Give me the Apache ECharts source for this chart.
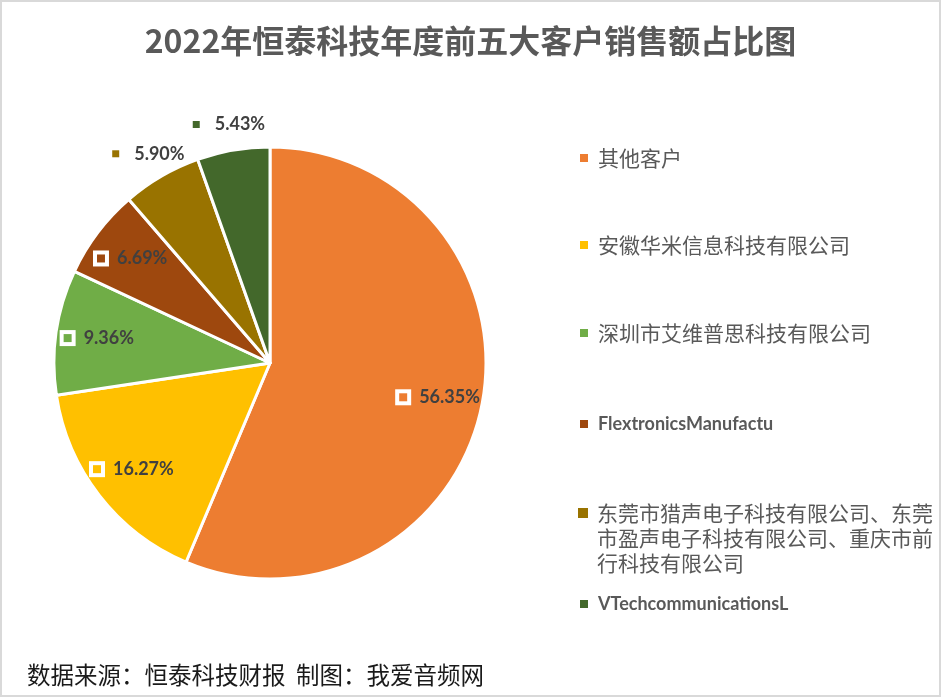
<!DOCTYPE html>
<html>
<head>
<meta charset="utf-8">
<script src="https://cdn.jsdelivr.net/npm/echarts@6/dist/echarts.min.js"></script>
<style>
html, body { margin: 0; padding: 0; background: #fff; }
#main { width: 941px; height: 697px; }
</style>
</head>
<body>
<div id="main"></div>
<script>
var chartTitle = "2022年恒泰科技年度前五大客户销售额占比图";
var footNote = "数据来源：恒泰科技财报  制图：我爱音频网";

// 客户名称 / 占比(%) / 颜色
var customers = [
	"其他客户",
	"安徽华米信息科技有限公司",
	"深圳市艾维普思科技有限公司",
	"FlextronicsManufactu",
	"东莞市猎声电子科技有限公司、东莞市盈声电子科技有限公司、重庆市前行科技有限公司",
	"VTechcommunicationsL"
];
var shares = [56.35, 16.27, 9.36, 6.69, 5.90, 5.43];
var colors = ["#ED7D31", "#FFC000", "#70AD47", "#9E480E", "#997300", "#43682B"];
// 哪些标签放在饼外
var outsideLabel = [false, false, false, false, true, true];
// 图例每项首行中心的 y
var legendTops = [158, 245, 333, 424, 513, 604];

var pieCenter = [270, 363];
var pieRadius = 216;
var lineChars = 16;   // 图例每行字数

var myChart = echarts.init(document.getElementById("main"));

function pct(v) {
	return v.toFixed(2) + "%";
}

// 饼块
var pieData = [];
var innerLabelData = [];
var outerLabelData = [];
for (var i = 0; i < customers.length; i++) {
	pieData.push({
		name: customers[i],
		value: shares[i],
		itemStyle: { color: colors[i] }
	});
	innerLabelData.push({
		name: customers[i],
		value: shares[i],
		label: {
			show: !outsideLabel[i],
			rich: {
				sq: { width: 8, height: 8, backgroundColor: colors[i], borderColor: "#fff", borderWidth: 4 },
				t: { color: "#404040", fontFamily: "Lato", fontWeight: "bold", fontSize: 18, padding: [0, 0, 0, 12] }
			}
		}
	});
	outerLabelData.push({
		name: customers[i],
		value: shares[i],
		label: {
			show: outsideLabel[i],
			rich: {
				sq: { width: 7, height: 7, backgroundColor: colors[i] },
				t: { color: "#404040", fontFamily: "Lato", fontWeight: "bold", fontSize: 18, padding: [0, 0, 0, 15] }
			}
		}
	});
}

var labelText = {
	position: "inside",
	color: "#404040",
	fontFamily: "Lato",
	fontWeight: "bold",
	fontSize: 18,
	formatter: function (p) {
		return "{sq|}{t|" + pct(p.value) + "}";
	}
};

// 图例: 每项一个, 方便控制位置
var legends = [];
for (var i = 0; i < customers.length; i++) {
	var latin = /^[\x00-\x7F]+$/.test(customers[i]);
	var multi = customers[i].length > lineChars && !latin;
	var txt = {
		color: "#595959",
		fontFamily: latin ? "Lato" : "Noto Sans CJK SC",
		fontWeight: latin ? "bold" : "normal",
		fontSize: latin ? 18 : 21,
		lineHeight: 25,
		padding: [0, 0, 0, 4]
	};
	var lg = {
		data: [{ name: customers[i], itemStyle: { color: colors[i] } }],
		left: 578,
		top: legendTops[i] - 12.5,
		orient: "vertical",
		padding: 0,
		itemWidth: 10,
		itemHeight: 10,
		icon: "rect",
		selectedMode: false,
		textStyle: txt
	};
	if (multi) {
		// 多行: 方块放在首行, 后续行对齐文字
		lg.icon = "none";
		lg.left = 563;
		lg.textStyle = {
			color: "#595959",
			fontFamily: "Noto Sans CJK SC",
			fontSize: 21,
			lineHeight: 25,
			rich: {
				sq: { width: 10, height: 10, backgroundColor: colors[i] },
				sp: { width: 10, height: 10 },
				t: { color: "#595959", fontFamily: "Noto Sans CJK SC", fontSize: 21, lineHeight: 25, padding: [0, 0, 0, 9] }
			}
		};
		lg.formatter = function (name) {
			var out = [];
			for (var k = 0; k < name.length; k += lineChars) {
				out.push((k === 0 ? "{sq|}" : "{sp|}") + "{t|" + name.substr(k, lineChars) + "}");
			}
			return out.join("\n");
		};
	}
	legends.push(lg);
}

var option = {
	backgroundColor: "#fff",
	animation: false,
	title: {
		text: chartTitle,
		left: "center",
		top: 20,
		textStyle: {
			color: "#595959",
			fontFamily: "Noto Sans CJK SC",
			fontWeight: "bold",
			fontSize: 32
		}
	},
	legend: legends,
	graphic: [
		{
			type: "rect",
			shape: { x: 1, y: 1, width: 939, height: 695 },
			style: { fill: "none", stroke: "#d9d9d9", lineWidth: 2 },
			silent: true
		},
		{
			type: "text",
			left: 27,
			top: 663,
			style: {
				text: footNote,
				fill: "#1a1a1a",
				font: "23.5px 'Noto Sans CJK SC'"
			}
		}
	],
	series: [
		{
			name: "饼块",
			type: "pie",
			center: pieCenter,
			radius: [0, pieRadius],
			startAngle: 90,
			clockwise: true,
			label: { show: false },
			labelLine: { show: false },
			itemStyle: { borderColor: "#fff", borderWidth: 3 },
			emphasis: { disabled: true },
			data: pieData
		},
		{
			name: "内标签",
			type: "pie",
			center: pieCenter,
			radius: [124, pieRadius],
			startAngle: 90,
			silent: true,
			itemStyle: { color: "rgba(0,0,0,0)" },
			label: labelText,
			labelLine: { show: false },
			emphasis: { disabled: true },
			data: innerLabelData
		},
		{
			name: "外标签",
			type: "pie",
			center: pieCenter,
			radius: [pieRadius, 262],
			startAngle: 90,
			silent: true,
			itemStyle: { color: "rgba(0,0,0,0)" },
			label: labelText,
			labelLine: { show: false },
			emphasis: { disabled: true },
			data: outerLabelData
		}
	]
};

myChart.setOption(option);
</script>
</body>
</html>
